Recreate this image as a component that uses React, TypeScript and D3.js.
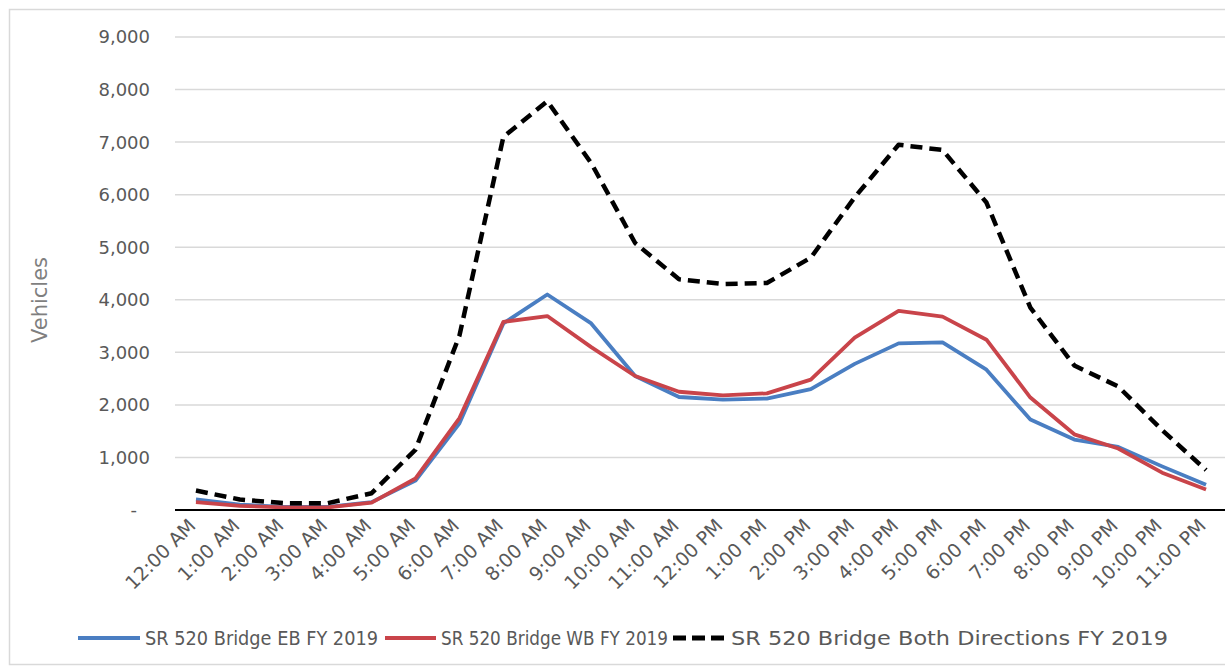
import React from "react";
import * as d3 from "d3";

const hours = [
  "12:00 AM", "1:00 AM", "2:00 AM", "3:00 AM", "4:00 AM", "5:00 AM", "6:00 AM", "7:00 AM",
  "8:00 AM", "9:00 AM", "10:00 AM", "11:00 AM", "12:00 PM", "1:00 PM", "2:00 PM", "3:00 PM",
  "4:00 PM", "5:00 PM", "6:00 PM", "7:00 PM", "8:00 PM", "9:00 PM", "10:00 PM", "11:00 PM",
];

const ebValues = [200, 100, 60, 60, 150, 560, 1650, 3550, 4100, 3550, 2550, 2150, 2100, 2120, 2300, 2780, 3170, 3190, 2670, 1720, 1340, 1200, 830, 480];
const wbValues = [150, 80, 50, 50, 140, 600, 1750, 3580, 3690, 3100, 2550, 2250, 2180, 2220, 2480, 3280, 3790, 3680, 3240, 2140, 1440, 1170, 710, 390];
const bothValues = [370, 200, 130, 130, 320, 1150, 3320, 7100, 7780, 6600, 5080, 4390, 4300, 4320, 4800, 5950, 6950, 6850, 5850, 3850, 2750, 2350, 1520, 760];

const yTicks = [0, 1000, 2000, 3000, 4000, 5000, 6000, 7000, 8000, 9000];

const seriesNames = ["SR 520 Bridge EB FY 2019", "SR 520 Bridge WB FY 2019", "SR 520 Bridge Both Directions FY 2019"];

export default function App() {
  const W = 1225, H = 667;
  const left = 175, right = 1229, top = 37, bottom = 510;
  const x = d3.scaleBand<string>().domain(hours).range([left, right]).paddingInner(0).paddingOuter(0);
  const y = d3.scaleLinear().domain([0, 9000]).range([bottom, top]);
  const cx = (h: string) => (x(h) as number) + x.bandwidth() / 2 - 1;
  const line = (vals: number[]) =>
    d3.line<number>().x((_, i) => cx(hours[i])).y((v) => y(v))(vals) as string;
  const fmt = d3.format(",");
  const font = "'DejaVu Sans', sans-serif";
  const txt = "#595959";

  const series = [
    { name: seriesNames[0], vals: ebValues, color: "#4A7EC2", width: 3.8, dash: undefined as string | undefined },
    { name: seriesNames[1], vals: wbValues, color: "#C9444A", width: 3.8, dash: undefined },
    { name: seriesNames[2], vals: bothValues, color: "#000000", width: 4.5, dash: "12,7" },
  ];

  const legend = [
    { x1: 78, x2: 140, tx: 145, len: 233 },
    { x1: 385, x2: 436, tx: 441, len: 227 },
    { x1: 673, x2: 726, tx: 731, len: 437 },
  ];

  return (
    <svg width={W} height={H} style={{ position: "absolute", left: 0, top: 0, background: "#fff" }} fontFamily={font}>
      <rect x={9.5} y={9.5} width={W + 20} height={655} fill="#fff" stroke="#d9d9d9" strokeWidth={1.5} />
      {yTicks.slice(1).map((t) => (
        <line key={t} x1={left} x2={W} y1={y(t)} y2={y(t)} stroke="#d9d9d9" strokeWidth={1.5} />
      ))}
      {yTicks.map((t) => (
        <text key={"l" + t} x={t === 0 ? 137 : 150} y={y(t)} dy="0.36em" textAnchor="end" fontSize={18} fill={txt}>
          {t === 0 ? "-" : fmt(t)}
        </text>
      ))}
      <text transform={`translate(47,300) rotate(-90)`} textAnchor="middle" fontSize={21} fill="#7f7f7f">
        Vehicles
      </text>
      {series.map((s) => (
        <path key={s.name} d={line(s.vals)} fill="none" stroke={s.color} strokeWidth={s.width}
          strokeDasharray={s.dash} strokeLinejoin="round" />
      ))}
      <line x1={left} x2={W} y1={bottom} y2={bottom} stroke="#000" strokeWidth={2} />
      {hours.map((h) => (
        <text key={h} transform={`translate(${cx(h) + 1},${bottom + 17}) rotate(-45)`} textAnchor="end"
          fontSize={19} fill={txt}>
          {h}
        </text>
      ))}
      {series.map((s, i) => (
        <g key={"lg" + i}>
          <line x1={legend[i].x1} x2={legend[i].x2} y1={638} y2={638} stroke={s.color}
            strokeWidth={s.dash ? 5 : 4} strokeDasharray={s.dash ? "13,6" : undefined} />
          <text x={legend[i].tx} y={638} dy="0.36em" fontSize={19} fill={txt}
            textLength={legend[i].len} lengthAdjust="spacingAndGlyphs">{s.name}</text>
        </g>
      ))}
    </svg>
  );
}
